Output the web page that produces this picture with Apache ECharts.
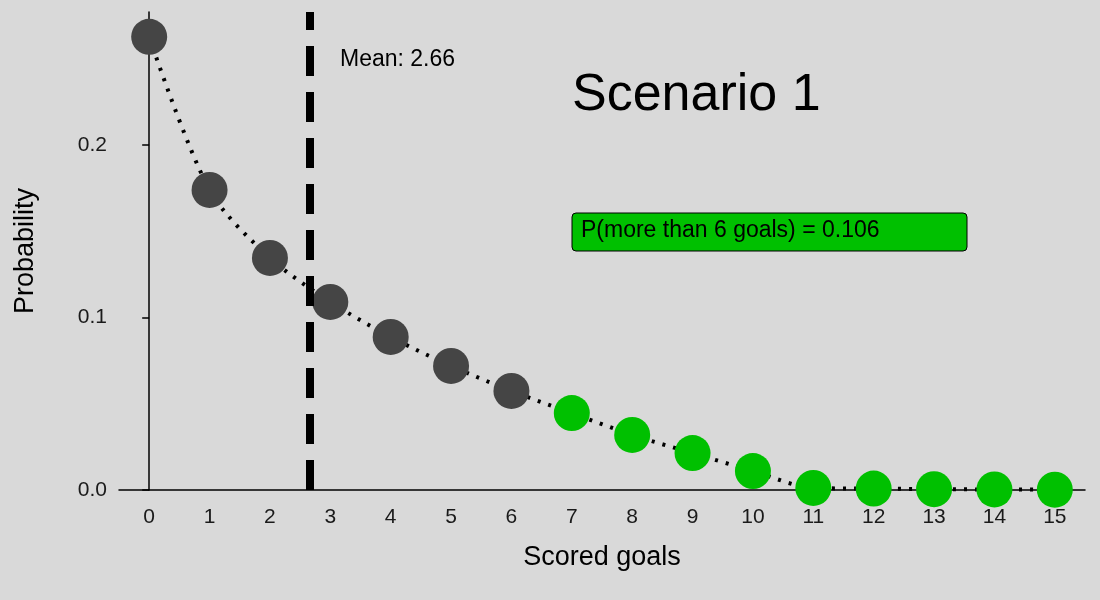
<!DOCTYPE html>
<html lang="en">
<head>
<meta charset="UTF-8">
<title>Scenario 1</title>
<script src="https://cdn.jsdelivr.net/npm/echarts@6/dist/echarts.min.js"></script>
<style>body{margin:0;background:#d9d9d9}</style>
</head>
<body>
<div id="chart1" style="width:1100px;height:600px;"></div>
<script>
var goals=[0,1,2,3,4,5,6,7,8,9,10,11,12,13,14,15]
var prob=[0.2626,0.1739,0.1345,0.109,0.0887,0.0719,0.0574,0.0446,0.0319,0.0214,0.011,0.0012,0.0008,0.0005,0.0003,0.0002]
var threshold=6
var meanGoals=2.66
var pMore=0.106

var pts=goals.map(function(g,i){return [g,prob[i]]})
var dark=pts.filter(function(p){return p[0]<=threshold})
var green=pts.filter(function(p){return p[0]>threshold})

var myCharts=echarts.init(document.getElementById("chart1"))
var option={
    backgroundColor:"#d9d9d9",
    textStyle:{fontFamily:"Liberation Sans, Arial, sans-serif"},
    grid:{left:119,right:15,top:12,bottom:110},
    xAxis:[{
        type:"category",
        data:goals.map(String),
        name:"Scored goals",
        nameLocation:"middle",
        nameGap:54,
        nameTextStyle:{fontSize:27,color:"#000"},
        axisLine:{lineStyle:{color:"#000",width:1.5}},
        axisTick:{alignWithLabel:true,lineStyle:{color:"#000",width:1.5},length:7},
        axisLabel:{fontSize:21,color:"#1a1a1a",margin:17}
    },{
        type:"value",min:-0.5,max:15.5,show:false
    }],
    yAxis:{
        type:"value",min:0,max:0.277,interval:0.1,
        name:"Probability",nameLocation:"middle",nameGap:80,
        nameTextStyle:{fontSize:27,color:"#000"},
        axisLine:{show:true,lineStyle:{color:"#000",width:1.5}},
        axisTick:{show:true,lineStyle:{color:"#000",width:1.5},length:7},
        splitLine:{show:false},
        axisLabel:{fontSize:21,color:"#1a1a1a",margin:12,showMaxLabel:false,
            formatter:function(v){return v.toFixed(1)}}
    },
    series:[
        {type:"line",xAxisIndex:1,data:pts,smooth:0.3,symbol:"none",z:1,
         lineStyle:{color:"#000",width:4,type:[3,8]},
         markLine:{symbol:"none",silent:true,label:{show:false},
            lineStyle:{color:"#000",width:8,type:[30,16]},
            data:[{xAxis:meanGoals}]}},
        {type:"scatter",xAxisIndex:1,data:dark,symbolSize:36,z:3,itemStyle:{color:"#454545",opacity:1}},
        {type:"scatter",xAxisIndex:1,data:green,symbolSize:36,z:3,itemStyle:{color:"#00c000",opacity:1}}
    ],
    graphic:[
        {type:"text",left:340,top:48,style:{text:"Mean: "+meanGoals.toFixed(2),fontSize:23,fill:"#000",fontFamily:"Liberation Sans, Arial"}},
        {type:"text",left:572,top:70,style:{text:"Scenario 1",fontSize:52,fill:"#000",fontFamily:"Liberation Sans, Arial"}},
        {type:"rect",shape:{x:572,y:213,width:395,height:38,r:4},style:{fill:"#00c000",stroke:"#000",lineWidth:1}},
        {type:"text",left:581,top:219,style:{text:"P(more than "+threshold+" goals) = "+pMore.toFixed(3),fontSize:23,fill:"#000",fontFamily:"Liberation Sans, Arial"}}
    ]
}
myCharts.setOption(option)
</script>
</body>
</html>
